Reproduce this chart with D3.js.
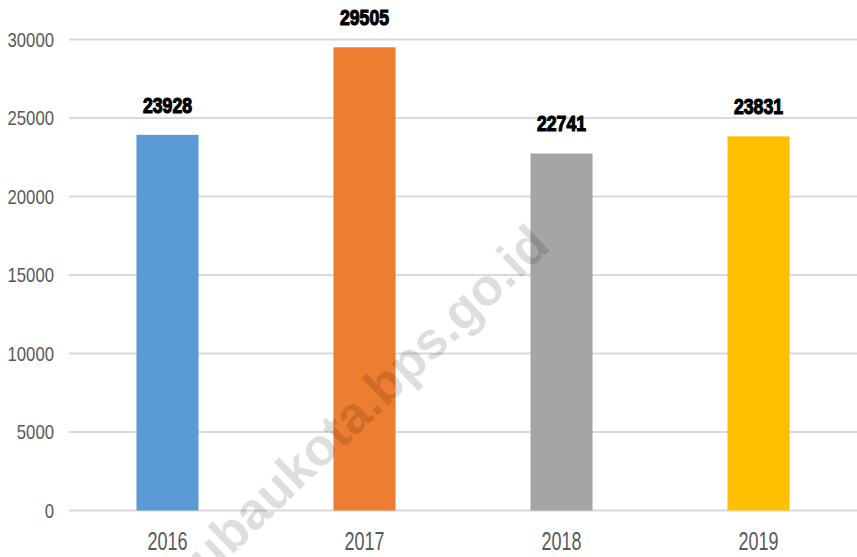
<!DOCTYPE html>
<html>
<head>
<meta charset="utf-8">
<script src="https://cdn.jsdelivr.net/npm/d3@7"></script>
<style>
  body { margin: 0; background: #fff; }
  svg { display: block; }
</style>
</head>
<body>
<div id="chart"></div>
<script>
// chart data
const years = ["2016", "2017", "2018", "2019"];
const values = [23928, 29505, 22741, 23831];
const barColors = ["#5b9bd5", "#ed7d31", "#a5a5a5", "#ffc000"];
const yTicks = [0, 5000, 10000, 15000, 20000, 25000, 30000];

const W = 857, H = 557;
const margin = { top: 39.5, right: 0, bottom: 46.5, left: 69 };
const width = W - margin.left - margin.right;
const height = H - margin.top - margin.bottom;
const font = "'Liberation Sans', Arial, sans-serif";

const svg = d3.select("#chart")
    .append("svg")
    .attr("width", W)
    .attr("height", H);

const g = svg.append("g")
    .attr("transform", `translate(${margin.left},${margin.top})`);

const x = d3.scaleBand()
    .domain(years)
    .range([0, width])
    .paddingInner(0.685)
    .paddingOuter(0.3425);

const y = d3.scaleLinear()
    .domain([0, 30000])
    .range([height, 0]);

// gridlines
g.selectAll(".grid")
    .data(yTicks)
    .enter()
    .append("line")
    .attr("class", "grid")
    .attr("x1", 0)
    .attr("x2", width)
    .attr("y1", d => y(d))
    .attr("y2", d => y(d))
    .attr("stroke", "#d9d9d9")
    .attr("stroke-width", 2);

// y axis labels (narrow, Calibri-like)
const yAxis = g.append("g")
    .call(d3.axisLeft(y).tickValues(yTicks).tickSize(0).tickPadding(15).tickFormat(d3.format("d")));
yAxis.select(".domain").remove();
yAxis.selectAll("text")
    .attr("fill", "#595959")
    .attr("textLength", d => String(d).length * 9.3)
    .attr("lengthAdjust", "spacingAndGlyphs")
    .style("font-family", font)
    .style("font-size", "21px");

// x axis labels
const xAxis = g.append("g")
    .attr("transform", `translate(0,${height})`)
    .call(d3.axisBottom(x).tickSize(0).tickPadding(22));
xAxis.select(".domain").remove();
xAxis.selectAll("text")
    .attr("fill", "#595959")
    .attr("textLength", 40)
    .attr("lengthAdjust", "spacingAndGlyphs")
    .style("font-family", font)
    .style("font-size", "25px");

// bars
g.selectAll(".bar")
    .data(values)
    .enter()
    .append("rect")
    .attr("class", "bar")
    .attr("x", (d, i) => x(years[i]))
    .attr("y", d => y(d))
    .attr("width", x.bandwidth())
    .attr("height", d => height - y(d))
    .attr("fill", (d, i) => barColors[i]);

// value labels
g.selectAll(".val")
    .data(values)
    .enter()
    .append("text")
    .attr("class", "val")
    .attr("x", (d, i) => x(years[i]) + x.bandwidth() / 2)
    .attr("y", d => y(d) - 22)
    .attr("text-anchor", "middle")
    .attr("textLength", 49)
    .attr("lengthAdjust", "spacingAndGlyphs")
    .attr("fill", "#000")
    .attr("stroke", "#000")
    .attr("stroke-width", 1.2)
    .style("font-family", font)
    .style("font-weight", "bold")
    .style("font-size", "22px")
    .text(d => d);

// watermark
svg.append("text")
    .attr("transform", "translate(552,248) rotate(-43.8)")
    .attr("text-anchor", "end")
    .attr("fill", "#000")
    .attr("fill-opacity", 0.13)
    .style("font-family", font)
    .style("font-weight", "bold")
    .style("font-size", "52px")
    .text("https://baubaukota.bps.go.id");
</script>
</body>
</html>
